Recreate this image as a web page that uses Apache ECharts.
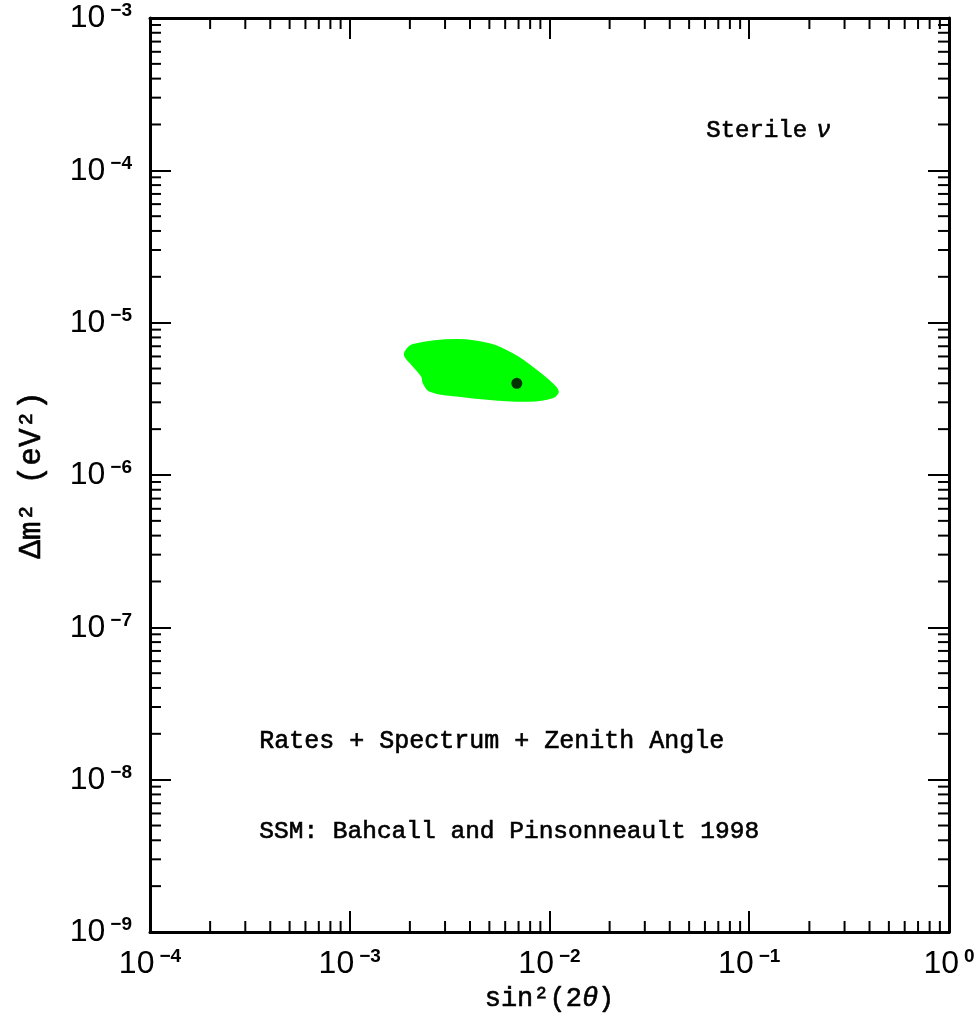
<!DOCTYPE html>
<html><head><meta charset="utf-8">
<script src="https://cdn.jsdelivr.net/npm/echarts@6/dist/echarts.min.js"></script>
<style>html,body{margin:0;padding:0;background:#fff}#c{width:980px;height:1029px}</style>
</head><body><div id="c"></div>
<script>
// axis ranges (decades)
const xDecades = [-4, -3, -2, -1, 0];
const yDecades = [-9, -8, -7, -6, -5, -4, -3];
// allowed region (contour)
const blobX = [1.88e-3, 2.07e-3, 3.42e-3, 5.01e-3, 6.55e-3, 8.25e-3, 1.039e-2, 1.113e-2, 1.039e-2, 7.94e-3, 5.01e-3, 3.42e-3, 2.51e-3, 2.32e-3, 2.28e-3, 2.0e-3, 1.88e-3];
const blobY = [6.45e-6, 7.24e-6, 7.82e-6, 7.32e-6, 6.30e-6, 5.14e-6, 4.0e-6, 3.52e-6, 3.19e-6, 3.03e-6, 3.11e-6, 3.27e-6, 3.52e-6, 4.0e-6, 4.41e-6, 5.41e-6, 5.98e-6];
// best-fit point
const bestFit = [[6.86e-3, 4.0e-6]];
const annotations = ['Sterile', '\u03bd', 'Rates + Spectrum + Zenith Angle', 'SSM: Bahcall and Pinsonneault 1998'];
const xTitle = 'sin\u00b2(2{i|\u03b8})';
const yTitle = '\u0394m\u00b2 (eV\u00b2)';

const xMin = Math.pow(10, xDecades[0]), xMax = Math.pow(10, xDecades[xDecades.length - 1]);
const yMin = Math.pow(10, yDecades[0]), yMax = Math.pow(10, yDecades[yDecades.length - 1]);

function minorTicks(decs) {
  const out = [];
  for (let i = 0; i < decs.length - 1; i++) {
    for (let m = 2; m <= 9; m++) out.push(m * Math.pow(10, decs[i]));
  }
  return out;
}
const xMinor = minorTicks(xDecades).map(v => [v, yMin]);
const yMinor = minorTicks(yDecades).map(v => [xMin, v]);

const SERIF = '"Liberation Mono", "DejaVu Sans Mono", monospace';
const SANS = '"Liberation Sans", Arial, sans-serif';

function labelFmt(v) {
  const e = Math.round(Math.log10(v));
  return '{b|10}{s|' + (e < 0 ? '\u2212' + (-e) : e) + '}';
}
const labelRich = {
  b: { fontFamily: SANS, fontSize: 32, color: '#000', verticalAlign: 'bottom', lineHeight: 32 },
  s: { fontFamily: SANS, fontSize: 19, fontWeight: 'bold', color: '#000', verticalAlign: 'bottom', padding: [0, 0, 14, 5] }
};

const axisCommon = {
  type: 'log', logBase: 10, interval: 1,
  axisLine: { show: true, lineStyle: { color: '#000', width: 3 } },
  axisTick: { show: true, inside: true, length: 21, lineStyle: { color: '#000', width: 2 } },
  splitLine: { show: false },
  minorTick: { show: false },
  minorSplitLine: { show: false }
};

const chart = echarts.init(document.getElementById('c'));
chart.setOption({
  animation: false,
  backgroundColor: '#fff',
  grid: { left: 150, right: 31, top: 18, bottom: 97 },
  xAxis: [
    Object.assign({}, axisCommon, {
      min: xMin, max: xMax, position: 'bottom',
      axisLabel: { formatter: labelFmt, rich: labelRich, margin: 15 },
      name: xTitle, nameLocation: 'middle', nameGap: 47,
      nameTextStyle: { fontFamily: SERIF, fontSize: 27, color: '#000', textBorderColor: '#000', textBorderWidth: 0.6,
        rich: { i: { fontFamily: SERIF, fontSize: 27, fontStyle: 'italic', color: '#000', textBorderColor: '#000', textBorderWidth: 0.6 } } }
    }),
    Object.assign({}, axisCommon, {
      min: xMin, max: xMax, position: 'top', axisLabel: { show: false }
    })
  ],
  yAxis: [
    Object.assign({}, axisCommon, {
      min: yMin, max: yMax, position: 'left',
      axisLabel: { formatter: labelFmt, rich: labelRich, margin: 18 },
      name: yTitle, nameLocation: 'middle', nameGap: 103,
      nameTextStyle: { fontFamily: SERIF, fontSize: 31, color: '#000', textBorderColor: '#000', textBorderWidth: 0.6 }
    }),
    Object.assign({}, axisCommon, {
      min: yMin, max: yMax, position: 'right', axisLabel: { show: false }
    })
  ],
  graphic: [
    { type: 'text', left: 706, top: 118, style: { text: annotations[0], font: '24px ' + SERIF, fill: '#000', stroke: '#000', lineWidth: 0.6 } },
    { type: 'text', left: 816, top: 118, style: { text: annotations[1], font: 'italic 24px ' + SERIF, fill: '#000', stroke: '#000', lineWidth: 0.6 } },
    { type: 'text', left: 259, top: 729, style: { text: annotations[2], font: '25px ' + SERIF, fill: '#000', stroke: '#000', lineWidth: 0.6 } },
    { type: 'text', left: 259, top: 819, style: { text: annotations[3], font: '24.5px ' + SERIF, fill: '#000', stroke: '#000', lineWidth: 0.6 } }
  ],
  series: [
    {
      type: 'custom', name: 'region', coordinateSystem: 'cartesian2d',
      data: [[blobX[0], blobY[0]]],
      renderItem: function (params, api) {
        const pts = blobX.map((x, i) => api.coord([x, blobY[i]]));
        return { type: 'polygon', shape: { points: pts, smooth: 0.35 }, style: { fill: '#00ff00', stroke: null } };
      },
      z: 2
    },
    {
      type: 'scatter', name: 'best fit', data: bestFit, symbol: 'circle', symbolSize: 11,
      itemStyle: { color: '#000' }, z: 3
    },
    {
      type: 'custom', name: 'xminor', data: xMinor, clip: false,
      renderItem: function (params, api) {
        const v = api.value(0);
        const b = api.coord([v, yMin]);
        const t = api.coord([v, yMax]);
        const st = { stroke: '#000', lineWidth: 2 };
        return { type: 'group', children: [
          { type: 'line', shape: { x1: b[0], y1: b[1], x2: b[0], y2: b[1] - 11 }, style: st },
          { type: 'line', shape: { x1: t[0], y1: t[1], x2: t[0], y2: t[1] + 11 }, style: st }
        ] };
      },
      z: 4
    },
    {
      type: 'custom', name: 'yminor', data: yMinor, clip: false,
      renderItem: function (params, api) {
        const v = api.value(1);
        const l = api.coord([xMin, v]);
        const r = api.coord([xMax, v]);
        const st = { stroke: '#000', lineWidth: 2 };
        return { type: 'group', children: [
          { type: 'line', shape: { x1: l[0], y1: l[1], x2: l[0] + 11, y2: l[1] }, style: st },
          { type: 'line', shape: { x1: r[0], y1: r[1], x2: r[0] - 11, y2: r[1] }, style: st }
        ] };
      },
      z: 4
    }
  ]
});
</script>
</body></html>
